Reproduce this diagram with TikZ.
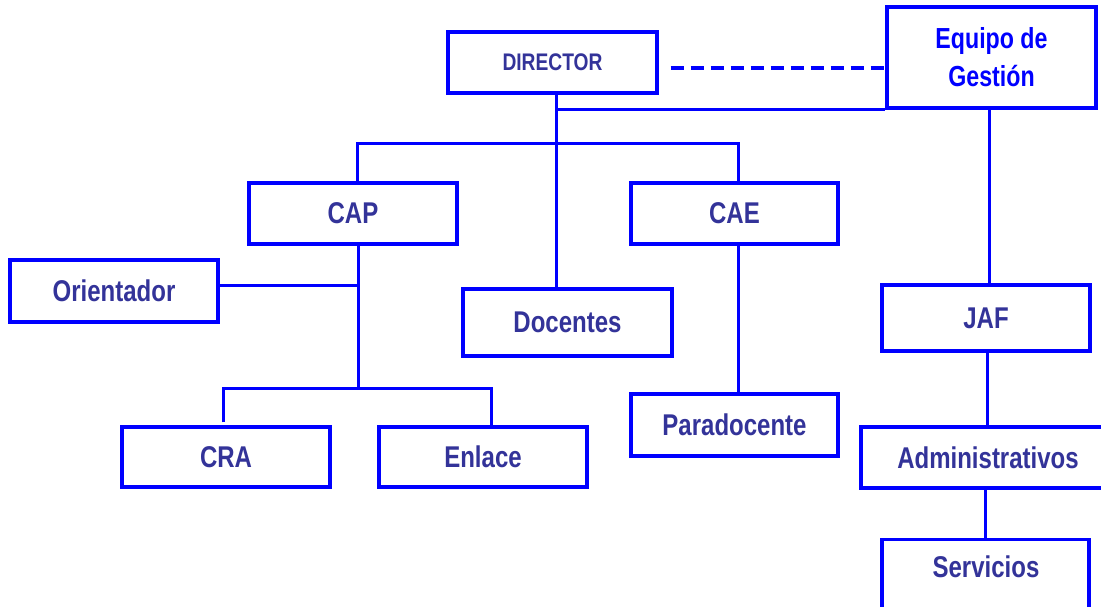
\documentclass[tikz,border=0pt]{standalone}
\usepackage{fontspec}
\setmainfont{Liberation Sans}[FakeStretch=0.8]
\usetikzlibrary{calc}
\definecolor{boxblue}{RGB}{0,0,255}
\definecolor{txtblue}{RGB}{51,51,153}
\tikzset{
  box/.style={draw=boxblue, line width=3.4pt, rectangle, inner sep=0pt,
    text=txtblue, font=\fontsize{30}{36}\selectfont\bfseries, fill=white},
  conn/.style={draw=boxblue, line width=3pt},
  dashconn/.style={draw=boxblue, line width=4pt, dash pattern=on 13pt off 7pt},
  plain/.style={text=txtblue, font=\fontsize{30}{36}\selectfont\bfseries, inner sep=0pt}
}
\begin{document}
\begin{tikzpicture}[x=1pt,y=-1pt]
\useasboundingbox (0,0) rectangle (1101,607);
\fill[white] (0,0) rectangle (1101,607);
\clip (0,0) rectangle (1101,607);

\coordinate (d0) at (556.5,93);
\coordinate (c0) at (358,244);
\coordinate (c1) at (358,388);

% boxes
\node[box, minimum width=209pt, minimum height=61pt, font=\fontsize{24}{28}\selectfont\bfseries] (dir) at (552.5,62.5) {DIRECTOR};
\node[box, minimum width=209pt, minimum height=101pt, text=boxblue, align=center,
      font=\fontsize{29}{38}\selectfont\bfseries] (eq) at (991.5,57.5) {Equipo de\\Gestión};
\node[box, minimum width=208pt, minimum height=61pt] (cap) at (353,213.5) {CAP};
\node[box, minimum width=207pt, minimum height=61pt] (cae) at (734.5,213.5) {CAE};
\node[box, minimum width=208pt, minimum height=62pt] (ori) at (114,291) {Orientador};
\node[box, minimum width=209pt, minimum height=67pt] (doc) at (567.5,322.5) {Docentes};
\node[box, minimum width=208pt, minimum height=60pt] (cra) at (226,457) {CRA};
\node[box, minimum width=208pt, minimum height=60pt] (enl) at (483,457) {Enlace};
\node[box, minimum width=207pt, minimum height=62pt] (para) at (734.5,425) {Paradocente};
\node[box, minimum width=208pt, minimum height=66pt] (jaf) at (986,318) {JAF};
\node[box, minimum width=254pt, minimum height=61pt] (adm) at (988,457.5) {Administrativos};
\node[box, minimum width=207pt, minimum height=82pt, anchor=north] (serv) at (985.5,538) {};
\node[plain] (servtxt) at (986,567) {Servicios};

\coordinate (o1) at ($(ori.east)+(0,-6)$);

% connectors
\draw[dashconn] ($(dir.east)+(12,5.5)$) -- ($(eq.west)+(0,10.5)$);
\draw[conn] (d0) -- (d0 |- doc.north);
\draw[conn] (d0 |- eq.south) -- (eq.south west);
\draw[conn] ($(cap.north)+(4,0)$) -- ++(0,-38) -| ($(cae.north)+(3.5,0)$);
\draw[conn] ($(eq.south)+(-2.5,0)$) -- ($(jaf.north)+(3,0)$);
\draw[conn] (c0) -- (c1);
\draw[conn] (o1) -- (o1 -| c0);
\draw[conn] ($(cra.north)+(-3,-3)$) |- (c1) -| ($(enl.north)+(8,0)$);
\draw[conn] ($(cae.south)+(3.5,0)$) -- ($(para.north)+(3.5,0)$);
\draw[conn] ($(jaf.south)+(1,0)$) -- ($(adm.north)+(-1,0)$);
\draw[conn] (serv.north) -- (serv.north |- adm.south);
\end{tikzpicture}
\end{document}
